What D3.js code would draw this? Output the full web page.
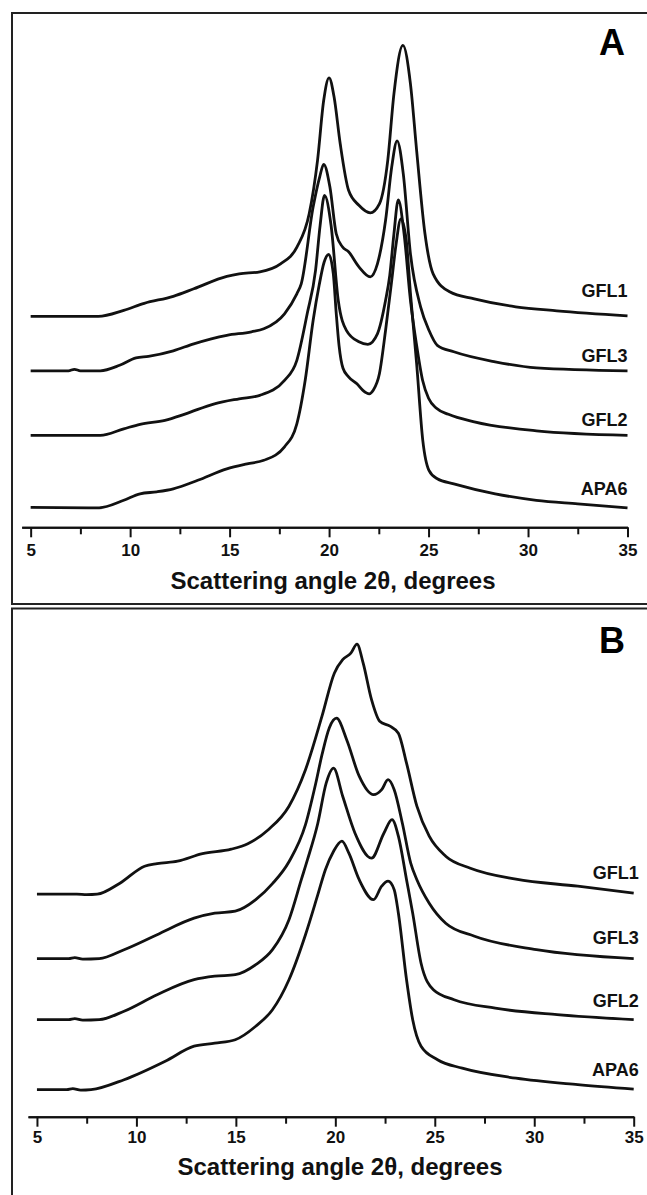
<!DOCTYPE html>
<html lang="en">
<head>
<meta charset="utf-8">
<style>
  body { margin: 0; background: #fff; }
  svg { display: block; font-family: Arial, "Liberation Sans", sans-serif; }
  .axis path, .axis line { stroke: #111; stroke-width: 2; }
  .axis text { font-size: 17px; font-weight: bold; fill: #111; }
  .curve { fill: none; stroke: #111; stroke-width: 2.8; stroke-linejoin: round; }
</style>
</head>
<body>
<svg width="647" height="1195"></svg>
<script src="https://d3js.org/d3.v7.min.js"></script>
<script type="text/javascript">
// x axis ticks (scattering angle 2theta, degrees)
var xTicks = [5, 10, 15, 20, 25, 30, 35];
var xMinorTicks = [7.5, 12.5, 17.5, 22.5, 27.5, 32.5];
var seriesNames = ["GFL1", "GFL3", "GFL2", "APA6"];
var xTitle = "Scattering angle 2\u03b8, degrees";

// panel A curves: [2theta, intensity (a.u., offset stacked)]
var aGFL1 = [[5,42.2],[8.4,42.2],[9.68,43.4],[10.71,44.8],[12.17,46.2],[13.2,47.7],[14.86,50.2],[15.48,50.7],
  [16.52,51.1],[17.56,52.7],[18.39,56.1],[19.0,62.7],[19.42,73.4],[19.73,85.4],[20.0,89.9],[20.25,86.1],
  [20.56,76.7],[20.98,67.4],[21.5,64.4],[22.07,62.9],[22.53,64.7],[22.95,73.4],[23.26,86.7],[23.71,96.4],
  [24.09,88.7],[24.4,75.4],[24.82,58.7],[25.23,50.7],[26.06,47.1],[27.3,45.7],[29.38,44.1],[31.45,43.3],[35,42.3]];
var aGFL3 = [[5,31.3],[6.9,31.3],[7.2,31.6],[7.5,31.3],[8.5,31.3],[9.47,32.4],[10.3,33.9],[10.92,34.2],
  [12.17,35.3],[13.2,36.7],[14.86,38.4],[16.1,39.1],[16.72,39.7],[17.76,42.7],[18.38,46.7],[18.6,48.7],
  [19.2,64.1],[19.53,70.1],[19.73,72.6],[20.04,68.1],[20.36,58.7],[20.67,56.1],[20.98,55.1],[21.5,52.1],
  [22.07,50.1],[22.43,52.7],[22.84,61.4],[23.15,72.1],[23.42,77.3],[23.73,70.7],[24.09,54.7],[24.6,44.1],
  [25.02,39.4],[25.44,36.4],[26.27,35.1],[28.35,33.1],[30.42,31.9],[35,31.3]];
var aGFL2 = [[5,18.4],[8.5,18.4],[9.68,19.7],[10.5,20.6],[11.75,21.4],[12.79,22.7],[14.24,24.7],[15.48,25.7],
  [16.52,26.4],[17.76,29.4],[18.38,33.4],[18.9,42.7],[19.32,51.4],[19.55,60.4],[19.77,66.4],[20.1,60.4],
  [20.46,45.4],[20.87,39.4],[21.5,37.1],[21.95,36.6],[22.43,38.7],[22.84,45.4],[23.05,50.4],[23.26,58.7],
  [23.48,65.5],[23.77,58.7],[24.09,45.4],[24.4,36.4],[24.7,29.4],[25.0,25.8],[25.4,23.8],[26.0,22.6],
  [27.3,21.1],[30.42,19.3],[35,18.4]];
var aAPA6 = [[5,4.0],[8.44,3.9],[9.68,5.4],[10.5,6.7],[11.34,7.1],[12.17,7.7],[13.4,9.4],[14.86,11.7],
  [15.88,12.7],[16.72,13.4],[17.76,16.1],[18.38,20.7],[18.8,29.4],[19.2,41.4],[19.5,48.4],[19.75,53.0],
  [19.98,54.6],[20.21,50.8],[20.36,42.8],[20.5,36.4],[20.7,31.8],[20.98,30.1],[21.4,28.7],[21.7,27.4],
  [22.02,26.7],[22.22,27.4],[22.53,30.7],[22.84,39.4],[23.15,49.4],[23.36,56.4],[23.61,61.7],[23.88,57.4],
  [24.09,46.8],[24.4,32.8],[24.71,17.4],[25.02,11.4],[25.44,9.7],[26.27,8.7],[28.35,6.7],[30.42,5.4],
  [32.5,4.7],[35,3.9]];
var labelLevelA = [46.0, 33.1, 20.3, 6.4];

// panel B curves
var bGFL1 = [[5,44.5],[7.0,44.5],[7.5,44.4],[8.03,44.5],[9.17,46.7],[10.41,50.1],[11.04,50.6],[12.07,51.1],
  [13.32,52.6],[14.77,53.5],[15.6,54.6],[16.63,57.4],[17.67,62.1],[18.5,69.4],[19.33,80.1],[19.95,88.7],
  [20.37,91.4],[20.78,92.7],[21.09,94.5],[21.4,90.7],[21.82,83.4],[22.23,79.1],[22.75,78.1],[23.17,76.7],
  [23.58,70.7],[24.1,62.1],[24.72,56.1],[25.55,52.1],[26.79,49.7],[29.08,47.5],[32.19,46.1],[35,44.7]];
var bGFL3 = [[5,31.6],[6.6,31.6],[6.9,31.8],[7.3,31.5],[8.13,31.6],[9.38,33.4],[11.04,36.4],[12.9,39.7],
  [13.94,40.7],[14.97,41.1],[16.0,43.4],[16.84,46.6],[17.67,51.0],[18.5,58.4],[19.0,66.4],[19.33,72.4],
  [19.7,77.8],[20.06,79.7],[20.57,75.4],[21.2,68.1],[21.92,64.4],[22.33,65.4],[22.65,67.4],[22.96,65.4],
  [23.37,58.7],[23.79,50.7],[24.1,47.4],[24.72,42.7],[25.55,38.7],[27.0,36.1],[30.11,33.4],[35,31.6]];
var bGFL2 = [[5,19.4],[6.6,19.4],[6.9,19.6],[7.3,19.3],[8.13,19.4],[9.38,21.1],[11.04,24.4],[12.9,27.4],
  [13.94,28.1],[14.97,28.4],[16.0,30.4],[16.84,33.4],[17.67,39.4],[18.29,47.4],[18.6,51.4],[19.12,58.7],
  [19.54,66.7],[19.91,69.7],[20.37,64.1],[20.99,56.7],[21.82,51.7],[22.44,56.7],[22.85,59.4],[23.17,56.1],
  [23.58,47.4],[23.89,40.7],[24.31,30.7],[24.93,25.4],[25.97,23.4],[28.04,21.7],[31.15,20.4],[35,19.4]];
var bAPA6 = [[5,5.4],[6.5,5.4],[6.8,5.6],[7.2,5.3],[7.72,5.4],[9.38,7.4],[11.45,11.1],[12.9,14.1],
  [13.94,14.7],[14.97,15.4],[16.0,18.1],[16.84,21.4],[17.67,27.4],[18.5,36.4],[19.12,44.4],[19.5,49.4],
  [19.9,53.0],[20.33,55.1],[20.68,52.7],[21.2,47.4],[21.92,43.4],[22.33,46.1],[22.65,47.1],[22.96,45.4],
  [23.17,40.7],[23.58,27.4],[23.89,19.4],[24.31,14.1],[25.14,11.4],[26.38,9.7],[29.08,7.7],[32.19,6.4],[35,5.5]];
var labelLevelB = [47.5, 34.5, 21.9, 8.1];

var svg = d3.select("svg");

// panel layout (pixels)
var panels = [
  { letter: "A", top: 13, bottom: 604, x0: 21.7, x1: 627.5, axisY: 527.3, pad: 7, titleX: 333, titleY: 589,
    labelDx: 0, series: [aGFL1, aGFL3, aGFL2, aAPA6], labels: labelLevelA },
  { letter: "B", top: 608.5, bottom: 1210, x0: 28, x1: 633.7, axisY: 1116.7, pad: 4, titleX: 340, titleY: 1175,
    labelDx: 5, series: [bGFL1, bGFL3, bGFL2, bAPA6], labels: labelLevelB }
];

panels.forEach(function(p) {
  var g = svg.append("g");

  // frame
  g.append("rect")
    .attr("x", 12).attr("y", p.top)
    .attr("width", 660).attr("height", p.bottom - p.top)
    .attr("fill", "none").attr("stroke", "#222").attr("stroke-width", 2);

  var x = d3.scaleLinear().domain([4.55, 35]).range([p.x0, p.x1]);
  var y = d3.scaleLinear().domain([0, 100]).range([p.axisY, p.axisY - 500]);

  // minor ticks first, then major
  g.append("g")
    .attr("class", "axis")
    .attr("transform", "translate(0," + p.axisY + ")")
    .call(d3.axisBottom(x).tickValues(xMinorTicks).tickSize(7).tickSizeOuter(0).tickFormat(""));

  g.append("g")
    .attr("class", "axis")
    .attr("transform", "translate(0," + p.axisY + ")")
    .call(d3.axisBottom(x).tickValues(xTicks).tickSize(10).tickSizeOuter(0).tickPadding(p.pad).tickFormat(d3.format("d")));

  g.append("text")
    .attr("x", p.titleX).attr("y", p.titleY)
    .attr("text-anchor", "middle")
    .style("font-size", "24px").style("font-weight", "bold").attr("fill", "#111")
    .text(xTitle);

  g.append("text")
    .attr("x", 625).attr("y", p.top + (p.letter === "A" ? 42 : 44.5))
    .attr("text-anchor", "end")
    .style("font-size", "36px").style("font-weight", "bold").attr("fill", "#000")
    .text(p.letter);

  var line = d3.line()
    .x(function(d) { return x(d[0]); })
    .y(function(d) { return y(d[1]); })
    .curve(d3.curveMonotoneX);

  g.selectAll(".curve")
    .data(p.series)
    .enter().append("path")
    .attr("class", "curve")
    .attr("d", line);

  g.selectAll(".lbl")
    .data(seriesNames)
    .enter().append("text")
    .attr("class", "lbl")
    .attr("x", x(35) + p.labelDx)
    .attr("y", function(d, i) { return y(p.labels[i]); })
    .attr("text-anchor", "end")
    .style("font-size", "18px").style("font-weight", "bold").attr("fill", "#111")
    .text(function(d) { return d; });
});
</script>
</body>
</html>
